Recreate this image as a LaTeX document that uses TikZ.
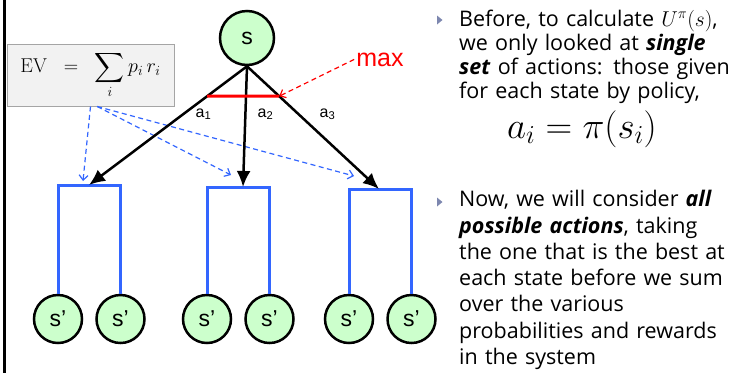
\RequirePackage{fix-cm}
\documentclass[tikz,border=0pt]{standalone}
\usepackage{exscale}
\usepackage[no-math]{fontspec}
\setmainfont{Open Sans}
\newfontfamily\arialfont{Liberation Sans}
\usetikzlibrary{arrows.meta, positioning}
\definecolor{stategreen}{RGB}{204,255,204}
\definecolor{branchblue}{RGB}{51,102,255}
\definecolor{bulletgray}{RGB}{125,135,175}
\definecolor{boxgray}{RGB}{242,242,242}
\definecolor{boxborder}{RGB}{165,165,165}

\begin{document}
\begin{tikzpicture}[x=1pt, y=-1pt, node distance=12pt,
    state/.style={circle, draw, line width=2.5pt, fill=stategreen, minimum size=54pt, inner sep=0pt, font=\arialfont\fontsize{23}{23}\selectfont},
    leaf/.style={state, minimum size=48pt},
    action/.style={-{Latex[length=16pt,width=14pt]}, line width=2.5pt},
    branch/.style={draw=branchblue, line width=3pt},
    evlink/.style={-{Straight Barb[length=5pt,width=9pt]}, branchblue, line width=1.2pt, dash pattern=on 5pt off 3.5pt},
    maxlink/.style={-{Straight Barb[length=5pt,width=9pt]}, red, line width=1.2pt, dash pattern=on 5pt off 3.5pt},
    actlabel/.style={font=\arialfont\fontsize{16}{16}\selectfont, inner sep=0pt},
    maxlabel/.style={font=\arialfont\fontsize{25}{25}\selectfont, inner sep=2pt},
    evbox/.style={rectangle, draw=boxborder, fill=boxgray, line width=1pt, minimum width=167pt, minimum height=62pt, font=\fontsize{20}{20}\selectfont},
    bodytext/.style={anchor=base west, inner sep=0pt, text width=271pt, align=left}]

    \useasboundingbox (0,0) rectangle (730,373);
    \draw[line width=2.3pt] (4.5,0) -- (4.5,373);

    \node[bodytext, font=\fontsize{21.5}{24}\selectfont] (before) at (459,26) {Before, to calculate $U^{\pi}(s)$,\\
        we only looked at \textbf{\textit{single}}\\
        \textbf{\textit{set}} of actions: those given\\
        for each state by policy,};
    \node[anchor=base, inner sep=0pt, font=\fontsize{37}{37}\selectfont] (policy) at (582,138) {$a_i = \pi(s_i)$};
    \node[bodytext, font=\fontsize{21.5}{26.3}\selectfont] (now) at (459,206.7) {Now, we will consider \textbf{\textit{all}}\\
        \textbf{\textit{possible actions}}, taking\\
        the one that is the best at\\
        each state before we sum\\
        over the various\\
        probabilities and rewards\\
        in the system};
    \foreach \y in {20,202}
        \fill[bulletgray] (437,\y-4.5) -- ++(5.5,4.5) -- ++(-5.5,4.5) -- cycle;

    \node[evbox] (ev) at (90.5,75) {$\displaystyle \mathrm{EV}\;\;=\;\;\sum_i p_i\,r_i$};

    \node[state] (s) at (247,38) {s};
    \node[leaf] (l1) at (58,319) {s’};
    \node[leaf, right=of l1] (l2) {s’};
    \node[leaf] (l3) at (207,319) {s’};
    \node[leaf, right=of l3] (l4) {s’};
    \node[leaf] (l5) at (349,319) {s’};
    \node[leaf, right=of l5] (l6) {s’};

    \coordinate (b1) at (89,185);
    \coordinate (b2) at (243,187);
    \coordinate (b3) at (379,189);
    \draw[branch] (l1.north) |- (b1) -| (l2.north);
    \draw[branch] (l3.north) |- (b2) -| (l4.north);
    \draw[branch] (l5.north) |- (b3) -| (l6.north);

    \coordinate (t1) at (83,181);
    \coordinate (t2) at (231,175);
    \coordinate (t3) at (354,176);
    \draw[evlink] (ev.south) -- (t1);
    \draw[evlink] (ev.-78) -- (t2);
    \draw[evlink] (ev.-78) -- (t3);

    \draw[action] (s.south) -- coordinate[pos=0.252] (m1) (b1);
    \draw[action] (s.south) -- (b2);
    \draw[action] (s.south) -- coordinate[pos=0.244] (m3) (b3);
    \draw[red, line width=3pt] (m1) -- (m3);

    \node[actlabel] (a1) at (203.5,114) {a\textsubscript{1}};
    \node[actlabel] (a2) at (265.5,114) {a\textsubscript{2}};
    \node[actlabel] (a3) at (327.5,114) {a\textsubscript{3}};

    \node[maxlabel, anchor=base] (max) at (380,66) {\textcolor{red}{max}};
    \draw[maxlink] (max.west) -- (m3);
\end{tikzpicture}
\end{document}
